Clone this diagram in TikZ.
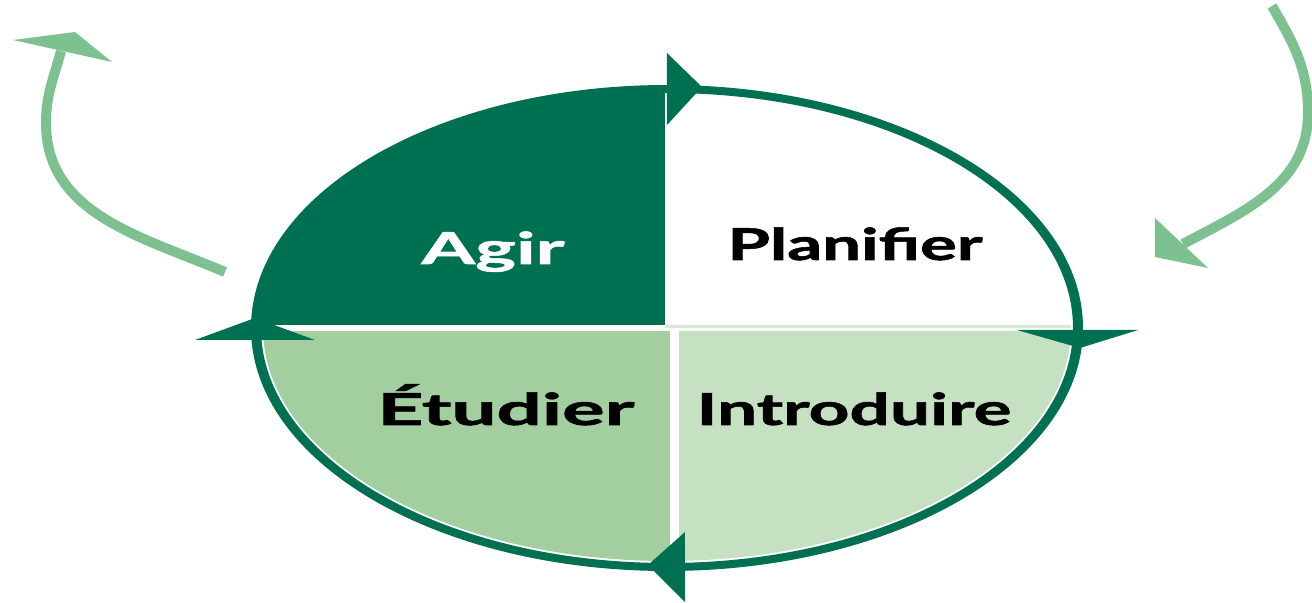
\documentclass[tikz,border=0pt]{standalone}
\usepackage{fontspec}
\newfontfamily\phasefont[BoldFeatures={FakeBold=1.2}]{Lato}
\usepackage{tikz}
\usetikzlibrary{positioning}
\usepackage{xcolor}
\definecolor{mydarkgreen}{RGB}{0, 112, 82}
\definecolor{mymidgreen}{RGB}{163, 206, 160}
\definecolor{mylightgreen}{RGB}{198, 225, 193}
\definecolor{myarrowgreen}{RGB}{126, 193, 145}
\newcommand{\phasetext}[2]{\resizebox{#1}{\height}{#2}}

\begin{document}
\begin{tikzpicture}[every node/.style={font=\phasefont\bfseries\fontsize{12.5}{12.5}\selectfont},
  phase/.style={anchor=base, inner sep=0pt},
  cyclehead/.style={fill=mydarkgreen},
  loopline/.style={draw=myarrowgreen, line width=0.1cm},
  loophead/.style={fill=myarrowgreen}]

\useasboundingbox (-6.67,-2.75) rectangle (6.45,3.28);

% Quadrants of the wheel
\begin{scope}
  \clip (0,0) ellipse (4.10 and 2.38);
  \fill[mydarkgreen] (-4.3,0.03) rectangle (-0.02,2.5);
\end{scope}
\begin{scope}
  \clip (0,0) ellipse (4.04 and 2.33);
  \fill[mymidgreen] (-4.3,-0.03) rectangle (0.03,-2.5);
  \fill[mylightgreen] (0.12,-0.03) rectangle (4.3,-2.5);
  \fill[mylightgreen!70] (-0.02,0.0) rectangle (4.3,0.025);
\end{scope}

% Rim and the four arrowheads on it
\fill[mydarkgreen, even odd rule] (0,0) ellipse (4.16 and 2.43) (0,0) ellipse (4.06 and 2.35);
\fill[cyclehead] (0,2.75) -- (0.35,2.41) -- (0,2.03) -- cycle;
\fill[cyclehead] (3.50,-0.02) -- (4.71,-0.02) -- (4.13,-0.20) -- cycle;
\fill[cyclehead] (0.18,-2.04) -- (0.18,-2.74) -- (-0.19,-2.37) -- cycle;
\fill[cyclehead] (-4.72,-0.12) -- (-3.52,-0.12) -- (-4.12,0.10) -- cycle;

% Labels
\node[phase, text=white] (agir) at (-1.74,0.64) {\phasetext{1.43cm}{Agir}};
\node[phase] (planifier) at (1.88,0.68) {\phasetext{2.55cm}{Planifier}};
\node[phase] (etudier) at (-1.61,-0.97) {\phasetext{2.57cm}{Étudier}};
\node[phase] (introduire) at (1.87,-0.97) {\phasetext{3.15cm}{Introduire}};

% Outer loop arrows
\coordinate (actstart) at (-4.42,0.56);
\coordinate (actbend) at (-6.21,2.05);
\coordinate (actend) at (-6.06,2.77);
\draw[loopline] (actstart) to[out=157,in=-90] (actbend) to[out=90,in=-105] (actend);
\fill[loophead] (-6.54,2.88) -- (-5.92,2.96) -- (-5.55,2.66) -- cycle;

\coordinate (planstart) at (6.05,3.22);
\coordinate (planbend) at (6.41,2.15);
\coordinate (planend) at (5.16,0.84);
\draw[loopline] (planstart) to[out=-60,in=90] (planbend) to[out=-90,in=28] (planend);
\fill[loophead] (4.88,1.10) -- (4.88,0.71) -- (5.41,0.60) -- cycle;

\end{tikzpicture}
\end{document}
